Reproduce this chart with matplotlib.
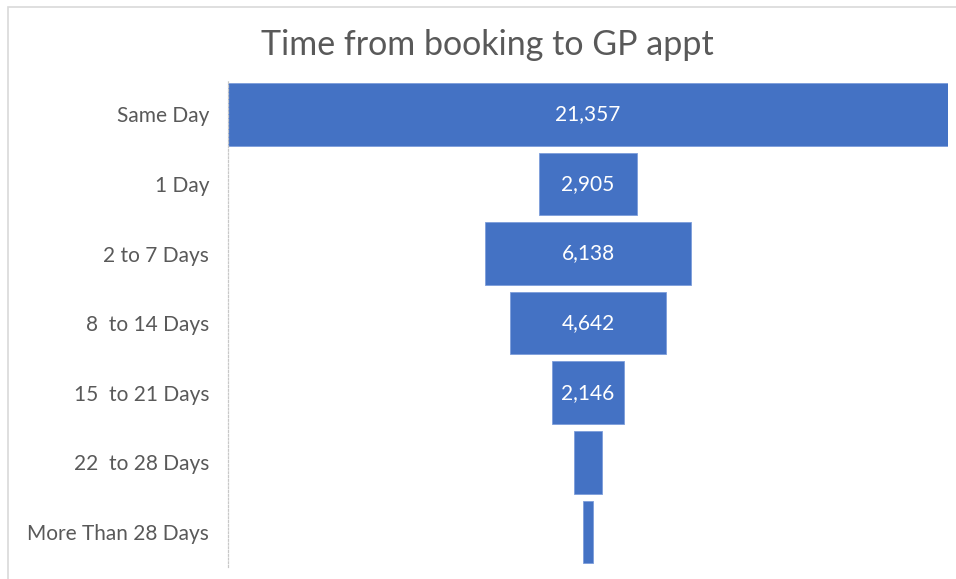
import matplotlib.pyplot as plt
from matplotlib.patches import Rectangle

categories = ["Same Day", "1 Day", "2 to 7 Days", "8  to 14 Days",
              "15  to 21 Days", "22  to 28 Days", "More Than 28 Days"]
values = [21357, 2905, 6138, 4642, 2146, 840, 300]
shown = [True, True, True, True, True, False, False]

plt.rcParams['font.family'] = ['Lato', 'DejaVu Sans']

fig = plt.figure(figsize=(9.56, 5.79), dpi=100)
fig.patches.append(Rectangle((8 / 956, -0.1), 1.2, 1 - 7 / 579 + 0.1,
                             transform=fig.transFigure, fill=False,
                             edgecolor='#d9d9d9', linewidth=1.2))

# plot area in pixels: x 228..948, rows -0.5..6.5 -> y 79.5..566.7
ax = fig.add_axes([228 / 956, 12.3 / 579, 720 / 956, 487.2 / 579])
ypos = list(range(len(categories)))
lefts = [-v / 2 for v in values]
ax.barh(ypos, values, left=lefts, height=0.9, color='#4472c4',
        edgecolor='#7c9ddb', linewidth=0.6)
for y, v, s in zip(ypos, values, shown):
    if s:
        ax.text(0, y, f"{v:,}", color='white', ha='center', va='center',
                fontsize=15)

ax.set_xlim(-values[0] / 2, values[0] / 2)
ax.set_ylim(len(categories) - 0.5, -0.5)
ax.set_yticks(ypos)
ax.set_yticklabels(categories, fontsize=15, color='#595959')
ax.tick_params(axis='y', length=0, pad=13.5)
ax.set_xticks([])
for side in ['top', 'right', 'bottom']:
    ax.spines[side].set_visible(False)
ax.spines['left'].set_color('#c8c8c8')
ax.spines['left'].set_linestyle((0, (1.5, 1.5)))
ax.spines['left'].set_linewidth(0.9)

fig.text(487 / 956, 1 - 45 / 579, "Time from booking to GP appt",
         ha='center', va='center', fontsize=24.5, color='#595959')

fig.savefig('out.png', dpi=100)
